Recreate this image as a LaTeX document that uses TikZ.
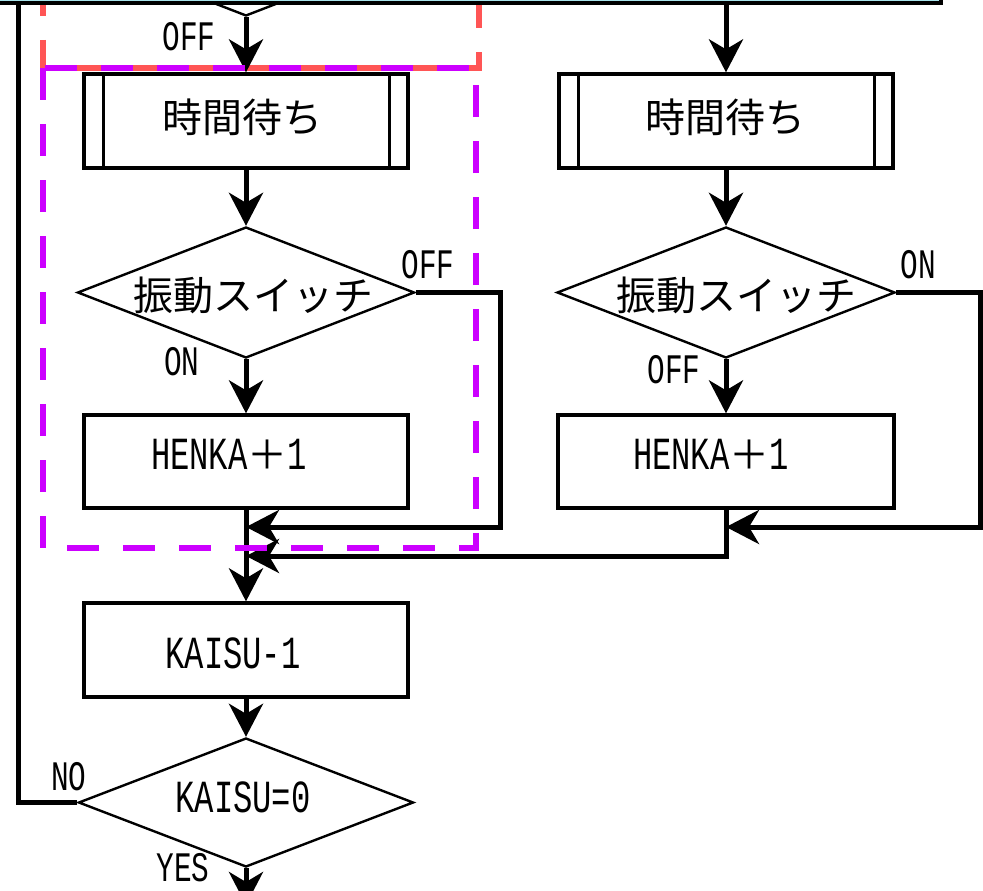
\documentclass[tikz,border=0pt]{standalone}
\usepackage{fontspec}
\usepackage{graphicx}
\usetikzlibrary{arrows.meta,shapes.geometric}
\newfontfamily\jpfont{Noto Sans CJK JP}
\newfontfamily\latmono{Liberation Mono}
\newcommand\lat[1]{\scalebox{0.7}[1]{#1}}
\definecolor{purp}{HTML}{CC00FF}
\definecolor{redd}{HTML}{FF5555}
\definecolor{cyanbg}{HTML}{A8E4EC}
\tikzset{
  conn/.style={line width=5pt, -{Stealth[length=33pt,width=34pt,inset=10pt]}},
  plainline/.style={line width=5pt},
  procbox/.style={draw, line width=3.3pt, minimum height=94pt, inner sep=0pt},
  dia/.style={draw, shape=diamond, line width=2.4pt, minimum width=337pt, minimum height=131pt, inner sep=0pt},
  jp/.style={font=\jpfont\fontsize{40pt}{40pt}\selectfont, inner sep=0pt},
  boxtxt/.style={font=\latmono\fontsize{46pt}{46pt}\selectfont, inner sep=0pt},
  lbl/.style={font=\latmono\fontsize{42pt}{42pt}\selectfont, inner sep=0pt},
  dashred/.style={draw=redd, line width=6pt, dash pattern=on 32pt off 24pt, dash phase=32pt},
  dashpurp/.style={draw=purp, line width=6pt, dash pattern=on 32pt off 24pt},
}
\begin{document}
\begin{tikzpicture}[x=1pt,y=-1pt]
\useasboundingbox (0,0) rectangle (983,891);
\clip (0,0) rectangle (983,891);
\fill[white] (0,0) rectangle (983,891);

% red dashed region (upper, mostly off-picture)
\draw[dashred] (43,-40) -- (43,68) -- (479,68) -- (479,-40);

% previous decision (cut off at top)
\node[dia] (d0) at (246,-49.5) {};

% left column
\node[procbox, minimum width=324pt, label={[jp,xshift=-4pt,yshift=4pt]center:時間待ち}] (t1) at (246,121) {};
\draw[line width=3pt] ([xshift=21pt]t1.north west) -- ([xshift=21pt]t1.south west);
\draw[line width=3pt] ([xshift=-20pt]t1.north east) -- ([xshift=-20pt]t1.south east);
\node[dia, label={[jp,xshift=7pt,yshift=-2.5pt]center:振動スイッチ}] (d1) at (246,292.5) {};
\node[procbox, minimum width=324pt, minimum height=93pt, label={[boxtxt,xshift=-17pt,yshift=7pt]center:\lat{HENKA}{\jpfont\fontsize{40pt}{40pt}\selectfont ＋}\lat{1}}] (h1) at (246,461.5) {};
\node[procbox, minimum width=324pt, label={[boxtxt,xshift=-13pt,yshift=-3pt]center:\lat{KAISU-1}}] (k1) at (246,650) {};
\node[dia, minimum width=335pt, minimum height=129pt, label={[boxtxt,xshift=-3pt,yshift=5pt]center:\lat{KAISU=0}}] (d3) at (246,802.5) {};

% right column
\node[procbox, minimum width=334pt, label={[jp,xshift=-1pt,yshift=4pt]center:時間待ち}] (t2) at (726,121) {};
\draw[line width=3pt] ([xshift=21pt]t2.north west) -- ([xshift=21pt]t2.south west);
\draw[line width=3pt] ([xshift=-20pt]t2.north east) -- ([xshift=-20pt]t2.south east);
\node[dia, minimum width=338pt, label={[jp,xshift=10pt,yshift=-2.5pt]center:振動スイッチ}] (d2) at (726,292.5) {};
\node[procbox, minimum width=336pt, minimum height=93pt, label={[boxtxt,xshift=-15pt,yshift=7pt]center:\lat{HENKA}{\jpfont\fontsize{40pt}{40pt}\selectfont ＋}\lat{1}}] (h2) at (726,461.5) {};

% labels
\node[lbl] (lOFF0) at (189,37) {\lat{OFF}};
\node[lbl] (lOFF1) at (428,265) {\lat{OFF}};
\node[lbl] (lON1) at (182,362) {\lat{ON}};
\node[lbl] (lON2) at (918,265) {\lat{ON}};
\node[lbl] (lOFF2) at (674,370) {\lat{OFF}};
\node[lbl] (lNO) at (69,777) {\lat{NO}};
\node[lbl] (lYES) at (183,868) {\lat{YES}};

% coordinates
\coordinate (topR) at (726,2);
\coordinate (m1) at (246,527);
\coordinate (m2) at (246,556);
\coordinate (m3) at (726,527);
\coordinate (m4) at (726,556);
\coordinate (b1) at (500,527);
\coordinate (b2) at (980,527);
\coordinate (loopC) at (18,802.5);
\coordinate (loopTop) at (18,0);
\coordinate (yesEnd) at (246,905);

% connectors
\draw[conn] (d0.south) -- (t1.north);
\draw[conn] (topR) -- (t2.north);
\draw[conn] (t1.south) -- (d1.north);
\draw[conn] (d1.south) -- (h1.north);
\draw[conn] (t2.south) -- (d2.north);
\draw[conn] (d2.south) -- (h2.north);
\draw[conn] (d1.east) -| (b1) -- (m1);
\draw[conn] (d2.east) -| (b2) -- (m3);
\draw[conn] (h2.south) -- (m4) -- (m2);
\draw[conn] (h1.south) -- (k1.north);
\draw[conn] (k1.south) -- (d3.north);
\draw[plainline] (d3.west) -- (loopC) -- (loopTop);
\draw[conn] (d3.south) -- (yesEnd);

% top highlighted box (cut off)
\fill[cyanbg] (-20,-20) rectangle (941,3);
\draw[line width=4.5pt] (-20,3) -- (941,3) -- (941,-20);

% purple dashed region
\draw[dashpurp] (43,68) rectangle (476,548);
\end{tikzpicture}
\end{document}
